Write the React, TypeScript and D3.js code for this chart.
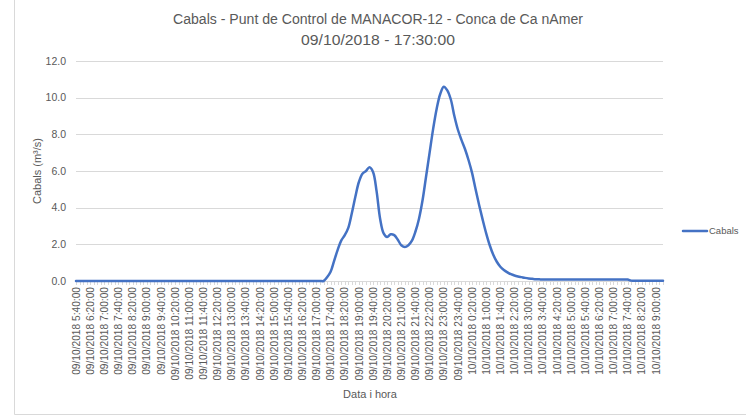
import React from "react";
import * as d3 from "d3";

const titleLines = ["Cabals - Punt de Control de MANACOR-12 - Conca de Ca nAmer", "09/10/2018 - 17:30:00"];
const seriesName = "Cabals";
const yAxisTitle = "Cabals (m³/s)";
const xAxisTitle = "Data i hora";
const yTicks = [0, 2, 4, 6, 8, 10, 12];

// 10-minute readings from 09/10/2018 5:40 to 10/10/2018 9:20
const values = [
  0, 0, 0, 0, 0, 0, 0, 0, 0, 0,
  0, 0, 0, 0, 0, 0, 0, 0, 0, 0,
  0, 0, 0, 0, 0, 0, 0, 0, 0, 0,
  0, 0, 0, 0, 0, 0, 0, 0, 0, 0,
  0, 0, 0, 0, 0, 0, 0, 0, 0, 0,
  0, 0, 0, 0, 0, 0, 0, 0, 0, 0,
  0, 0, 0, 0, 0, 0, 0, 0, 0, 0,
  0, 0.2, 0.5, 1.1, 1.7, 2.2, 2.5, 2.9, 3.7, 4.6,
  5.4, 5.85, 6.0, 6.2, 5.95, 4.9, 3.4, 2.6, 2.4, 2.55,
  2.5, 2.25, 1.95, 1.85, 1.95, 2.2, 2.7, 3.4, 4.4, 5.7,
  7.0, 8.3, 9.4, 10.2, 10.6, 10.4, 9.9, 9.0, 8.25, 7.7,
  7.2, 6.6, 5.9, 5.0, 4.15, 3.35, 2.6, 1.95, 1.43, 1.05,
  0.78, 0.6, 0.47, 0.37, 0.3, 0.25, 0.21, 0.17, 0.14, 0.12,
  0.1, 0.09, 0.08, 0.08, 0.08, 0.08, 0.08, 0.08, 0.08, 0.08,
  0.08, 0.08, 0.08, 0.08, 0.08, 0.08, 0.08, 0.08, 0.08, 0.08,
  0.08, 0.08, 0.08, 0.08, 0.08, 0.08, 0.08, 0.02, 0.02, 0.02,
  0.02, 0.02, 0.02, 0.02, 0.02, 0.02, 0.02,
];

const xLabels = [
  "09/10/2018 5:40:00", "09/10/2018 6:20:00", "09/10/2018 7:00:00", "09/10/2018 7:40:00",
  "09/10/2018 8:20:00", "09/10/2018 9:00:00", "09/10/2018 9:40:00", "09/10/2018 10:20:00",
  "09/10/2018 11:00:00", "09/10/2018 11:40:00", "09/10/2018 12:20:00", "09/10/2018 13:00:00",
  "09/10/2018 13:40:00", "09/10/2018 14:20:00", "09/10/2018 15:00:00", "09/10/2018 15:40:00",
  "09/10/2018 16:20:00", "09/10/2018 17:00:00", "09/10/2018 17:40:00", "09/10/2018 18:20:00",
  "09/10/2018 19:00:00", "09/10/2018 19:40:00", "09/10/2018 20:20:00", "09/10/2018 21:00:00",
  "09/10/2018 21:40:00", "09/10/2018 22:20:00", "09/10/2018 23:00:00", "09/10/2018 23:40:00",
  "10/10/2018 0:20:00", "10/10/2018 1:00:00", "10/10/2018 1:40:00", "10/10/2018 2:20:00",
  "10/10/2018 3:00:00", "10/10/2018 3:40:00", "10/10/2018 4:20:00", "10/10/2018 5:00:00",
  "10/10/2018 5:40:00", "10/10/2018 6:20:00", "10/10/2018 7:00:00", "10/10/2018 7:40:00",
  "10/10/2018 8:20:00", "10/10/2018 9:00:00",
];
const labelEvery = 4;

const W = 746;
const H = 417;
const plot = { left: 76, right: 663, top: 61, bottom: 281 };
const font = "'Liberation Sans', Arial, sans-serif";
const textColor = "#595959";

export default function App() {
  const idx = values.map((_, i) => i);
  const x = d3.scalePoint<number>().domain(idx).range([plot.left, plot.right]);
  const y = d3.scaleLinear().domain([0, 12]).range([plot.bottom, plot.top]);
  const line = d3
    .line<number>()
    .x((_, i) => x(i) as number)
    .y((d) => y(d))
    .curve(d3.curveCatmullRom.alpha(0.5));

  return (
    <div style={{ position: "absolute", left: 0, top: 0 }}>
      <svg width={W} height={H} style={{ display: "block", background: "#fff" }} fontFamily={font}>
        <rect x={0} y={0} width={W} height={H} fill="#fff" />
        <path d={`M14.5,-1V414.5H${W + 1}`} fill="none" stroke="#d9d9d9" strokeWidth={1} />
        {titleLines.map((t, i) => (
          <text key={t} x={378} y={24 + i * 21} textAnchor="middle" fontSize={15.5} fill={textColor}
            textLength={i === 0 ? 410 : 154} lengthAdjust="spacingAndGlyphs">
            {t}
          </text>
        ))}
        {yTicks.map((t) => (
          <g key={t}>
            {t > 0 && (
              <line x1={plot.left} x2={plot.right} y1={Math.round(y(t)) + 0.5} y2={Math.round(y(t)) + 0.5}
                stroke="#d9d9d9" strokeWidth={1} />
            )}
            <text x={66} y={y(t)} dy="0.35em" textAnchor="end" fontSize={10.5} fill={textColor}>
              {t.toFixed(1)}
            </text>
          </g>
        ))}
        <line x1={plot.left} x2={plot.right} y1={plot.bottom + 0.5} y2={plot.bottom + 0.5} stroke="#d9d9d9" />
        {idx.map((i) => (
          <line key={i} x1={Math.round(x(i) as number) + 0.5} x2={Math.round(x(i) as number) + 0.5}
            y1={plot.bottom} y2={plot.bottom + 4} stroke="#d9d9d9" />
        ))}
        {xLabels.map((l, k) => {
          const px = x(k * labelEvery) as number;
          return (
            <text key={l} transform={`translate(${px + 3.7},287) rotate(-90)`} textAnchor="end"
              fontSize={10.2} fill={textColor}>
              {l}
            </text>
          );
        })}
        <text transform={`translate(41,${(plot.top + plot.bottom) / 2}) rotate(-90)`} textAnchor="middle"
          fontSize={11} fill={textColor}>
          {yAxisTitle}
        </text>
        <text x={370} y={398} textAnchor="middle" fontSize={11} fill={textColor}>
          {xAxisTitle}
        </text>
        <path d={line(values) || ""} fill="none" stroke="#4472C4" strokeWidth={2.5} strokeLinejoin="round"
          strokeLinecap="round" />
        <line x1={683} x2={707} y1={231} y2={231} stroke="#4472C4" strokeWidth={2.5} strokeLinecap="round" />
        <text x={709} y={231} dy="0.35em" fontSize={9.5} fill={textColor}>
          {seriesName}
        </text>
      </svg>
    </div>
  );
}
